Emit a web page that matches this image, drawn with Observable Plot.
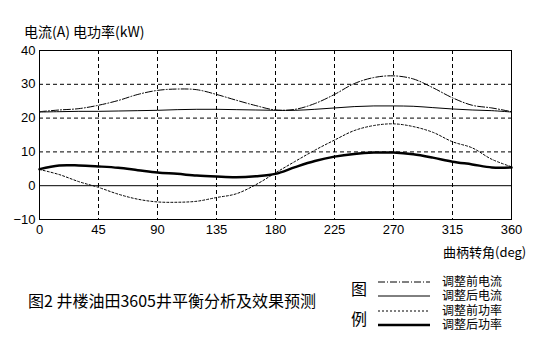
<!DOCTYPE html>
<html><head><meta charset="utf-8">
<script src="https://cdn.jsdelivr.net/npm/d3@7"></script>
<script src="https://cdn.jsdelivr.net/npm/@observablehq/plot@0.6"></script>
<style>
body{margin:0;background:#fff;}
#wrap{position:relative;width:547px;height:356px;background:#fff;font-family:"Noto Sans CJK SC","Noto Sans",sans-serif;color:#000;}
#plot{position:absolute;left:0;top:0;}
.t{position:absolute;white-space:nowrap;}
.lg{position:absolute;}
.lt{font-family:"Liberation Sans","Noto Sans CJK SC",sans-serif;}
</style>
</head><body>
<div id="wrap">
  <div id="plot"></div>
  <div class="t" style="left:24px;top:24px;font-size:14px;line-height:14px;">电流(A)&nbsp;电功率(kW)</div>
  <div class="t" style="left:443px;top:245px;font-size:13px;line-height:13px;">曲柄转角(deg)</div>
  <div class="t" style="left:28px;top:292px;font-size:16px;line-height:16px;">图2 井楼油田3605井平衡分析及效果预测</div>
  <div class="t" style="left:351px;top:280px;font-size:16px;line-height:16px;">图</div>
  <div class="t" style="left:351px;top:310px;font-size:16px;line-height:16px;">例</div>
  <div id="legend"></div>
</div>
<script>
const angles = [0,15,30,45,60,75,90,105,120,135,150,165,180,195,210,225,240,255,270,285,300,315,330,345,360];
const currentBefore = [21.9,22.4,22.8,23.8,25.2,27.0,28.2,28.6,28.4,27.0,25.3,23.7,22.4,22.6,24.3,27.0,30.2,32.0,32.5,31.6,29.0,26.0,23.8,23.0,21.9];
const currentAfter  = [21.8,21.9,22.0,22.0,22.1,22.2,22.3,22.5,22.6,22.6,22.5,22.4,22.3,22.3,22.6,23.0,23.4,23.6,23.6,23.5,23.1,22.7,22.4,22.2,21.8];
const powerBefore   = [4.8,3.3,1.2,-0.5,-2.5,-4.0,-4.8,-4.9,-4.6,-3.5,-2.4,0.3,3.8,7.2,10.5,13.5,16.3,17.8,18.3,17.5,15.8,13.0,11.2,7.8,5.6];
const powerAfter    = [4.9,6.0,6.0,5.7,5.3,4.6,3.9,3.5,3.0,2.7,2.5,2.8,3.5,5.5,7.3,8.6,9.4,9.8,9.8,9.3,8.3,7.1,6.3,5.4,5.4];
const xTicks = [0,45,90,135,180,225,270,315,360];
const yTicks = [-10,0,10,20,30,40];
const xGrid = [45,90,135,180,225,270,315];
const yGrid = [10,20,30];
const seriesNames = ["调整前电流","调整后电流","调整前功率","调整后功率"];

const styles = [
  {stroke:"#000", strokeWidth:1, strokeDasharray:"7,2,1,2"},
  {stroke:"#000", strokeWidth:1, strokeDasharray:null},
  {stroke:"#000", strokeWidth:1, strokeDasharray:"2,2"},
  {stroke:"#000", strokeWidth:2.5, strokeDasharray:null}
];
const allSeries = [currentBefore,currentAfter,powerBefore,powerAfter];
const tables = allSeries.map(vals => angles.map((a,i)=>({a, v: vals[i]})));
const clean = s => Object.fromEntries(Object.entries(s).filter(([k,v])=>v!=null));

const chart = Plot.plot({
  width: 547, height: 262,
  marginLeft: 39, marginRight: 36, marginTop: 50, marginBottom: 43,
  style: {fontFamily: "'Liberation Sans', 'DejaVu Sans', sans-serif", fontSize: "13px", color:"#000", background:"#fff"},
  x: {domain:[0,360], label: null},
  y: {domain:[-10,40], label: null},
  marks: [
    Plot.ruleX(xGrid, {stroke:"#000", strokeDasharray:"4,3", strokeWidth:1}),
    Plot.ruleY(yGrid, {stroke:"#000", strokeDasharray:"4,3", strokeWidth:1}),
    Plot.ruleY([0], {stroke:"#000", strokeWidth:1}),
    ...tables.map((t,i)=>Plot.line(t, {x:"a", y:"v", curve:"catmull-rom", ...clean(styles[i])})),
    Plot.frame({stroke:"#000", strokeWidth:1}),
    Plot.axisX({ticks: xTicks, tickSize:0, tickPadding:5, label:null}),
    Plot.axisY({ticks: yTicks, tickSize:0, tickPadding:4, label:null})
  ]
});
document.getElementById("plot").appendChild(chart);

const legend = document.getElementById("legend");
const ys = [282,296,311,325];
seriesNames.forEach((name,i)=>{
  const svg = d3.create("svg").attr("class","lg").attr("width",52).attr("height",6)
    .style("left","378px").style("top",(ys[i]-3)+"px");
  svg.append("line").attr("x1",0).attr("x2",52).attr("y1",3).attr("y2",3)
    .attr("stroke","#000").attr("stroke-width",styles[i].strokeWidth)
    .attr("stroke-dasharray",styles[i].strokeDasharray);
  legend.appendChild(svg.node());
  const d = document.createElement("div");
  d.className = "t lt";
  d.style.left = "442px"; d.style.top = (ys[i]-6)+"px";
  d.style.fontSize = "12px"; d.style.lineHeight = "12px";
  d.textContent = name;
  legend.appendChild(d);
});
</script>
</body></html>
